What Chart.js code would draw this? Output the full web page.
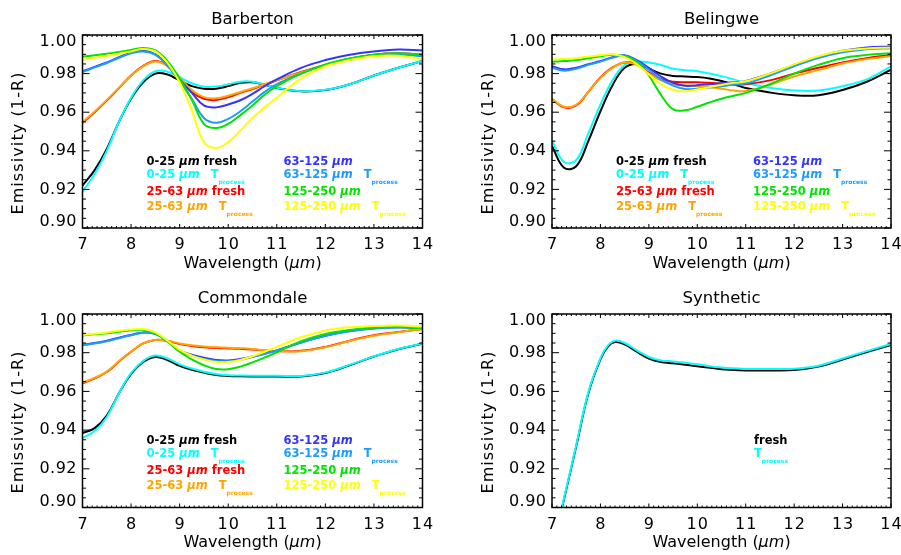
<!DOCTYPE html>
<html>
<head>
<meta charset="utf-8">
<script src="https://cdn.jsdelivr.net/npm/chart.js@4"></script>
<style>
  html, body { margin: 0; padding: 0; background: #ffffff; }
  #wrap { position: relative; width: 901px; height: 555px; overflow: hidden; background: #ffffff; }
  #wrap canvas { position: absolute; }
</style>
</head>
<body>
<div id="wrap">
  <canvas id="pBarberton" width="450" height="279" style="left:0px;top:0px"></canvas>
  <canvas id="pBelingwe" width="451" height="279" style="left:450px;top:0px"></canvas>
  <canvas id="pCommondale" width="450" height="276" style="left:0px;top:279px"></canvas>
  <canvas id="pSynthetic" width="451" height="276" style="left:450px;top:279px"></canvas>
</div>
<script>
// ---- wavelength grids (µm) ----
const wavelength = [7, 7.25, 7.5, 7.75, 8, 8.25, 8.5, 8.75, 9, 9.25, 9.5, 9.75, 10, 10.25, 10.5, 10.75, 11, 11.5, 12, 12.5, 13, 13.5, 14];
const wavelengthSynthetic = [7.2, 7.5, 7.75, 8, 8.15, 8.3, 8.5, 8.75, 9, 9.25, 9.5, 9.75, 10, 10.5, 11, 11.5, 12, 12.5, 13, 13.5, 14];

// ---- axis ticks ----
const xTickValues = [7, 8, 9, 10, 11, 12, 13, 14];
const xTickLabels = ['7', '8', '9', '10', '11', '12', '13', '14'];
const yTickValues = [0.90, 0.92, 0.94, 0.96, 0.98, 1.00];
const yTickLabels = ['0.90', '0.92', '0.94', '0.96', '0.98', '1.00'];

// ---- Barberton emissivity ----
const bar_0_25_fresh    = [0.9220, 0.9300, 0.9410, 0.9550, 0.9670, 0.9755, 0.9800, 0.9795, 0.9765, 0.9735, 0.9722, 0.9722, 0.9735, 0.9752, 0.9755, 0.9742, 0.9725, 0.9708, 0.9715, 0.9745, 0.9790, 0.9830, 0.9865];
const bar_0_25_tproc    = [0.9188, 0.9280, 0.9400, 0.9550, 0.9675, 0.9765, 0.9812, 0.9810, 0.9780, 0.9750, 0.9732, 0.9733, 0.9745, 0.9758, 0.9758, 0.9743, 0.9726, 0.9709, 0.9716, 0.9745, 0.9790, 0.9830, 0.9865];
const bar_25_63_fresh   = [0.9545, 0.9600, 0.9660, 0.9725, 0.9790, 0.9840, 0.9865, 0.9840, 0.9775, 0.9705, 0.9670, 0.9663, 0.9678, 0.9700, 0.9720, 0.9743, 0.9765, 0.9808, 0.9845, 0.9875, 0.9898, 0.9905, 0.9898];
const bar_25_63_tproc   = [0.9548, 0.9603, 0.9663, 0.9727, 0.9790, 0.9838, 0.9863, 0.9840, 0.9780, 0.9715, 0.9678, 0.9672, 0.9685, 0.9705, 0.9724, 0.9745, 0.9766, 0.9806, 0.9842, 0.9872, 0.9895, 0.9902, 0.9895];
const bar_63_125_fresh  = [0.9812, 0.9835, 0.9858, 0.9885, 0.9908, 0.9920, 0.9900, 0.9845, 0.9770, 0.9700, 0.9635, 0.9625, 0.9640, 0.9662, 0.9695, 0.9735, 0.9770, 0.9830, 0.9870, 0.9898, 0.9915, 0.9925, 0.9920];
const bar_63_125_tproc  = [0.9808, 0.9832, 0.9855, 0.9882, 0.9905, 0.9915, 0.9898, 0.9840, 0.9760, 0.9670, 0.9570, 0.9545, 0.9565, 0.9605, 0.9655, 0.9705, 0.9745, 0.9800, 0.9845, 0.9878, 0.9895, 0.9898, 0.9890];
const bar_125_250_fresh = [0.9888, 0.9895, 0.9903, 0.9912, 0.9922, 0.9933, 0.9920, 0.9865, 0.9775, 0.9665, 0.9540, 0.9518, 0.9540, 0.9585, 0.9635, 0.9690, 0.9735, 0.9800, 0.9848, 0.9878, 0.9898, 0.9905, 0.9898];
const bar_125_250_tproc = [0.9872, 0.9882, 0.9892, 0.9903, 0.9915, 0.9928, 0.9915, 0.9855, 0.9755, 0.9610, 0.9445, 0.9415, 0.9445, 0.9505, 0.9570, 0.9625, 0.9675, 0.9775, 0.9838, 0.9870, 0.9890, 0.9893, 0.9875];

// ---- Belingwe emissivity ----
const bel_0_25_fresh    = [0.9425, 0.9312, 0.9320, 0.9450, 0.9605, 0.9740, 0.9830, 0.9850, 0.9825, 0.9800, 0.9788, 0.9785, 0.9782, 0.9775, 0.9762, 0.9745, 0.9725, 0.9702, 0.9688, 0.9688, 0.9715, 0.9758, 0.9820];
const bel_0_25_tproc    = [0.9453, 0.9342, 0.9352, 0.9490, 0.9640, 0.9765, 0.9845, 0.9862, 0.9858, 0.9845, 0.9825, 0.9818, 0.9812, 0.9800, 0.9787, 0.9770, 0.9752, 0.9727, 0.9713, 0.9712, 0.9735, 0.9770, 0.9838];
const bel_25_63_fresh   = [0.9667, 0.9625, 0.9635, 0.9705, 0.9780, 0.9832, 0.9858, 0.9850, 0.9805, 0.9772, 0.9758, 0.9755, 0.9755, 0.9752, 0.9748, 0.9745, 0.9745, 0.9765, 0.9800, 0.9830, 0.9858, 0.9880, 0.9897];
const bel_25_63_tproc   = [0.9670, 0.9628, 0.9638, 0.9705, 0.9778, 0.9830, 0.9857, 0.9845, 0.9800, 0.9765, 0.9745, 0.9738, 0.9735, 0.9730, 0.9722, 0.9712, 0.9710, 0.9742, 0.9785, 0.9818, 0.9852, 0.9875, 0.9890];
const bel_63_125_fresh  = [0.9838, 0.9822, 0.9830, 0.9848, 0.9865, 0.9885, 0.9895, 0.9870, 0.9830, 0.9785, 0.9752, 0.9737, 0.9740, 0.9745, 0.9750, 0.9755, 0.9762, 0.9800, 0.9845, 0.9888, 0.9918, 0.9935, 0.9940];
const bel_63_125_tproc  = [0.9830, 0.9815, 0.9825, 0.9845, 0.9862, 0.9882, 0.9893, 0.9865, 0.9820, 0.9770, 0.9738, 0.9720, 0.9722, 0.9728, 0.9735, 0.9742, 0.9748, 0.9790, 0.9838, 0.9880, 0.9910, 0.9926, 0.9932];
const bel_125_250_fresh = [0.9862, 0.9865, 0.9870, 0.9880, 0.9890, 0.9898, 0.9890, 0.9860, 0.9790, 0.9690, 0.9615, 0.9610, 0.9628, 0.9650, 0.9670, 0.9685, 0.9700, 0.9745, 0.9800, 0.9845, 0.9880, 0.9897, 0.9905];
const bel_125_250_tproc = [0.9873, 0.9876, 0.9880, 0.9888, 0.9895, 0.9900, 0.9885, 0.9850, 0.9795, 0.9745, 0.9715, 0.9708, 0.9718, 0.9730, 0.9742, 0.9752, 0.9760, 0.9800, 0.9848, 0.9890, 0.9918, 0.9930, 0.9935];

// ---- Commondale emissivity ----
const com_0_25_fresh    = [0.9385, 0.9410, 0.9475, 0.9590, 0.9690, 0.9752, 0.9778, 0.9762, 0.9732, 0.9712, 0.9697, 0.9685, 0.9680, 0.9678, 0.9677, 0.9677, 0.9677, 0.9677, 0.9695, 0.9735, 0.9780, 0.9818, 0.9846];
const com_0_25_tproc    = [0.9360, 0.9395, 0.9468, 0.9590, 0.9695, 0.9758, 0.9785, 0.9770, 0.9740, 0.9718, 0.9702, 0.9690, 0.9684, 0.9682, 0.9681, 0.9681, 0.9681, 0.9680, 0.9697, 0.9737, 0.9781, 0.9819, 0.9847];
const com_25_63_fresh   = [0.9642, 0.9668, 0.9700, 0.9755, 0.9805, 0.9848, 0.9866, 0.9860, 0.9845, 0.9835, 0.9828, 0.9824, 0.9822, 0.9820, 0.9817, 0.9812, 0.9808, 0.9810, 0.9830, 0.9862, 0.9890, 0.9907, 0.9923];
const com_25_63_tproc   = [0.9645, 0.9670, 0.9702, 0.9757, 0.9806, 0.9848, 0.9866, 0.9862, 0.9848, 0.9838, 0.9832, 0.9828, 0.9826, 0.9823, 0.9819, 0.9813, 0.9808, 0.9808, 0.9828, 0.9860, 0.9888, 0.9906, 0.9922];
const com_63_125_fresh  = [0.9841, 0.9850, 0.9862, 0.9878, 0.9892, 0.9905, 0.9898, 0.9860, 0.9812, 0.9790, 0.9774, 0.9762, 0.9760, 0.9767, 0.9780, 0.9795, 0.9812, 0.9853, 0.9888, 0.9912, 0.9926, 0.9931, 0.9928];
const com_63_125_tproc  = [0.9838, 0.9847, 0.9859, 0.9875, 0.9890, 0.9903, 0.9896, 0.9858, 0.9808, 0.9785, 0.9768, 0.9757, 0.9756, 0.9764, 0.9778, 0.9794, 0.9811, 0.9852, 0.9887, 0.9911, 0.9925, 0.9930, 0.9927];
const com_125_250_fresh = [0.9889, 0.9895, 0.9900, 0.9908, 0.9915, 0.9918, 0.9900, 0.9858, 0.9805, 0.9765, 0.9735, 0.9716, 0.9715, 0.9728, 0.9750, 0.9775, 0.9802, 0.9860, 0.9897, 0.9918, 0.9930, 0.9933, 0.9926];
const com_125_250_tproc = [0.9892, 0.9898, 0.9905, 0.9913, 0.9920, 0.9922, 0.9905, 0.9862, 0.9815, 0.9785, 0.9765, 0.9752, 0.9752, 0.9762, 0.9782, 0.9805, 0.9830, 0.9880, 0.9915, 0.9932, 0.9938, 0.9940, 0.9935];

// ---- Synthetic emissivity ----
const syn_fresh = [0.8990, 0.9316, 0.9589, 0.9765, 0.9830, 0.9855, 0.9843, 0.9805, 0.9770, 0.9752, 0.9745, 0.9738, 0.9730, 0.9715, 0.9708, 0.9708, 0.9710, 0.9728, 0.9765, 0.9803, 0.9840];
const syn_tproc = [0.8995, 0.9322, 0.9595, 0.9771, 0.9836, 0.9862, 0.9850, 0.9812, 0.9778, 0.9760, 0.9755, 0.9748, 0.9740, 0.9723, 0.9716, 0.9716, 0.9717, 0.9733, 0.9770, 0.9808, 0.9845];

// ---- series styling and legend text ----
const seriesColors = ['#000000', '#00ffff', '#ff0000', '#ffa500', '#3434ff', '#1e9bff', '#00e400', '#ffff00'];
const sizeLabels   = ['0-25', '0-25', '25-63', '25-63', '63-125', '63-125', '125-250', '125-250'];
const sizeSuffix   = ['fresh', 'T', 'fresh', 'T', '', 'T', '', 'T'];
const synthLabels  = ['fresh', 'T'];
const synthColors  = ['#000000', '#00ffff'];

const FONT = '"DejaVu Sans", "Liberation Sans", sans-serif';

// Draws a row of differently styled text pieces.
function drawRuns(ctx, runs, x, y, align) {
  let total = 0;
  for (const r of runs) {
    ctx.font = r.font;
    ctx.letterSpacing = r.spacing || '0px';
    r.w = ctx.measureText(r.text).width;
    total += r.w + (r.pre || 0);
  }
  let cx = align === 'center' ? x - total / 2 : x;
  ctx.textAlign = 'left';
  ctx.textBaseline = 'middle';
  for (const r of runs) {
    cx += r.pre || 0;
    ctx.font = r.font;
    ctx.letterSpacing = r.spacing || '0px';
    ctx.fillStyle = r.color || '#000';
    ctx.fillText(r.text, cx, y + (r.dy || 0));
    cx += r.w;
  }
  ctx.letterSpacing = '0px';
}

function legendRuns(size, suffix, color) {
  const main = 'bold 11.5px ' + FONT;
  const ital = 'italic bold 11.5px ' + FONT;
  const runs = [];
  if (size) {
    runs.push({ text: size + ' ', font: main, color });
    runs.push({ text: 'µm', font: ital, color });
  }
  if (suffix === 'fresh') runs.push({ text: (size ? ' ' : '') + 'fresh', font: main, color });
  if (suffix === 'T') {
    runs.push({ text: (size ? ' ' : '') + 'T', font: main, color, pre: size ? 7 : 0 });
    runs.push({ text: 'process', font: 'bold 6px ' + FONT, color, dy: 7 });
  }
  return runs;
}

// IDL-style box axes with inward ticks on all four sides, plus all panel text.
function makeFramePlugin(panel) {
  return {
    id: 'idlFrame',
    afterDatasetsDraw(chart) {
      const { ctx, chartArea: a, scales } = chart;
      const xs = scales.x, ys = scales.y;
      ctx.save();

      // legend inside the plot box
      panel.legend.forEach((item) => {
        drawRuns(ctx, legendRuns(item.size, item.suffix, item.color), a.left + item.dx, a.top + item.dy, 'left');
      });

      // box
      ctx.strokeStyle = '#000';
      ctx.lineWidth = 1.5;
      ctx.strokeRect(a.left, a.top, a.right - a.left, a.bottom - a.top);

      // ticks
      ctx.lineWidth = 1;
      ctx.beginPath();
      for (let i = 0; i <= 70; i++) {
        const px = xs.getPixelForValue(7 + i / 10);
        const len = i % 10 === 0 ? 4 : 2;
        ctx.moveTo(px, a.bottom); ctx.lineTo(px, a.bottom - len);
        ctx.moveTo(px, a.top); ctx.lineTo(px, a.top + len);
      }
      for (let i = 0; i <= 20; i++) {
        const py = ys.getPixelForValue(0.9 + i * 0.005);
        const len = i % 4 === 0 ? 7 : 3.5;
        ctx.moveTo(a.left, py); ctx.lineTo(a.left + len, py);
        ctx.moveTo(a.right, py); ctx.lineTo(a.right - len, py);
      }
      ctx.stroke();

      // tick labels
      ctx.fillStyle = '#000';
      ctx.font = '16px ' + FONT;
      ctx.textBaseline = 'middle';
      ctx.textAlign = 'center';
      ctx.letterSpacing = '1px';
      xTickValues.forEach((v, i) => {
        ctx.fillText(xTickLabels[i], xs.getPixelForValue(v) + 0.5, a.bottom + 17);
      });
      ctx.textAlign = 'right';
      ctx.letterSpacing = '0.5px';
      yTickValues.forEach((v, i) => {
        let py = ys.getPixelForValue(v);
        if (i === 0) py -= 6;
        if (i === yTickValues.length - 1) py += 7;
        ctx.fillText(yTickLabels[i], a.left - 5.5, py);
      });
      ctx.letterSpacing = '0px';

      // panel title
      const cx = (a.left + a.right) / 2;
      ctx.textAlign = 'center';
      ctx.font = '16.5px ' + FONT;
      ctx.fillText(panel.title, cx, a.top - 15);

      // x axis title
      drawRuns(ctx, [
        { text: 'Wavelength (', font: '16px ' + FONT },
        { text: 'µm', font: 'italic 16px ' + FONT },
        { text: ')', font: '16px ' + FONT }
      ], cx, a.bottom + 35.5, 'center');

      // y axis title
      ctx.save();
      ctx.translate(a.left - 63.5, a.top + 108);
      ctx.rotate(-Math.PI / 2);
      ctx.font = '16px ' + FONT;
      ctx.letterSpacing = '1.1px';
      ctx.textAlign = 'center';
      ctx.textBaseline = 'middle';
      ctx.fillStyle = '#000';
      ctx.fillText('Emissivity (1-R)', 0, 0);
      ctx.restore();

      ctx.restore();
    }
  };
}

function makePanel(canvasId, padding, title, xs, seriesList, colors, legend) {
  const n = seriesList.length;
  new Chart(document.getElementById(canvasId), {
    type: 'line',
    data: {
      datasets: seriesList.map((vals, i) => ({
        data: xs.map((x, j) => ({ x: x, y: vals[j] })),
        borderColor: colors[i],
        borderWidth: 2,
        pointRadius: 0,
        tension: 0.4,
        fill: false,
        order: n - i
      }))
    },
    options: {
      responsive: false,
      animation: false,
      events: [],
      layout: { padding: padding },
      plugins: { legend: { display: false }, tooltip: { enabled: false }, title: { display: false } },
      scales: {
        x: { type: 'linear', min: 7, max: 14, display: false },
        y: { type: 'linear', min: 0.9, max: 1.0, display: false }
      }
    },
    plugins: [makeFramePlugin({ title, legend })]
  });
}

const colX = [64, 201];
const rowY = [127, 140, 157, 172];
const gridLegend = sizeLabels.map((s, i) => ({
  size: s, suffix: sizeSuffix[i], color: seriesColors[i],
  dx: colX[i < 4 ? 0 : 1], dy: rowY[i % 4]
}));
const synthLegend = synthLabels.map((s, i) => ({
  size: '', suffix: s, color: synthColors[i], dx: 202, dy: rowY[i]
}));

const padTopLeft  = { left: 82.5, top: 35, right: 27.5, bottom: 51 };
const padTopRight = { left: 102, top: 35, right: 10, bottom: 51 };
const padBotLeft  = { left: 82.5, top: 35, right: 27.5, bottom: 47.5 };
const padBotRight = { left: 102, top: 35, right: 10, bottom: 47.5 };

makePanel('pBarberton', padTopLeft, 'Barberton', wavelength,
  [bar_0_25_fresh, bar_0_25_tproc, bar_25_63_fresh, bar_25_63_tproc, bar_63_125_fresh, bar_63_125_tproc, bar_125_250_fresh, bar_125_250_tproc],
  seriesColors, gridLegend);
makePanel('pBelingwe', padTopRight, 'Belingwe', wavelength,
  [bel_0_25_fresh, bel_0_25_tproc, bel_25_63_fresh, bel_25_63_tproc, bel_63_125_fresh, bel_63_125_tproc, bel_125_250_fresh, bel_125_250_tproc],
  seriesColors, gridLegend);
makePanel('pCommondale', padBotLeft, 'Commondale', wavelength,
  [com_0_25_fresh, com_0_25_tproc, com_25_63_fresh, com_25_63_tproc, com_63_125_fresh, com_63_125_tproc, com_125_250_fresh, com_125_250_tproc],
  seriesColors, gridLegend);
makePanel('pSynthetic', padBotRight, 'Synthetic', wavelengthSynthetic,
  [syn_fresh, syn_tproc], synthColors, synthLegend);
</script>
</body>
</html>
